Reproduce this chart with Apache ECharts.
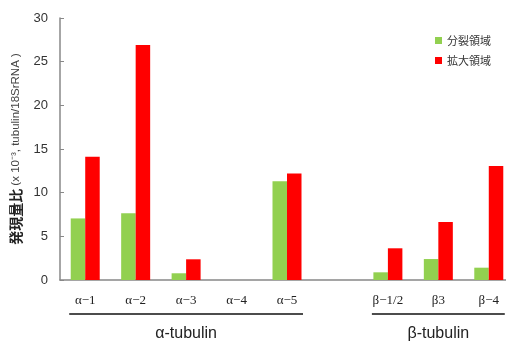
<!DOCTYPE html>
<html><head><meta charset="utf-8">
<script src="https://cdn.jsdelivr.net/npm/echarts@6/dist/echarts.min.js"></script>
<style>html,body{margin:0;padding:0;background:#fff;overflow:hidden}#c{width:514px;height:342px}</style>
</head><body><div id="c"></div>
<script>
const categories = ['α−1','α−2','α−3','α−4','α−5','','β−1/2','β3','β−4'];
const divisionZone = [7.05, 7.65, 0.77, 0, 11.3, '-', 0.88, 2.4, 1.41];
const expansionZone = [14.1, 26.9, 2.37, 0, 12.2, '-', 3.63, 6.64, 13.06];
const seriesNames = ['分裂領域', '拡大領域'];
const yTicks = [0, 5, 10, 15, 20, 25, 30];
const groups = [
  {label: 'α-tubulin', from: 'α−1', to: 'α−5'},
  {label: 'β-tubulin', from: 'β−1/2', to: 'β−4'}
];

const chart = echarts.init(document.getElementById('c'), null, {renderer: 'canvas'});
const option = {
  animation: false,
  grid: {left: 60, top: 18, bottom: 62, right: 0, containLabel: false},
  legend: {
    orient: 'vertical', right: 18, top: 30, itemWidth: 7, itemHeight: 7, itemGap: 9,
    icon: 'rect',
    textStyle: {fontSize: 11, color: '#333', fontFamily: 'Noto Sans CJK JP'},
    data: seriesNames
  },
  xAxis: {
    type: 'category', data: categories,
    axisLine: {lineStyle: {color: '#888', width: 1.5}},
    axisTick: {show: false},
    axisLabel: {margin: 14, fontSize: 13, color: '#222', fontFamily: 'Liberation Serif', interval: 0}
  },
  yAxis: {
    type: 'value', min: yTicks[0], max: yTicks[yTicks.length-1], interval: 5,
    splitLine: {show: false},
    axisLine: {show: true, lineStyle: {color: '#888', width: 1.5}},
    axisTick: {show: true, inside: true, length: 4, lineStyle: {color: '#888'}},
    axisLabel: {margin: 12, fontSize: 13, color: '#333', fontFamily: 'Liberation Sans'},
    name: '{a|発現量比}{b| (x 10⁻³, tubulin/18SrRNA )}',
    nameLocation: 'middle', nameGap: 35, nameRotate: 90,
    nameTextStyle: {
      rich: {
        a: {fontSize: 14, fontWeight: 'bold', color: '#222', fontFamily: 'Noto Sans CJK JP'},
        b: {fontSize: 11.5, color: '#444', fontFamily: 'Liberation Sans'}
      }
    }
  },
  series: [
    {name: seriesNames[0], type: 'bar', data: divisionZone, barWidth: 14.5, barGap: '0%',
     itemStyle: {color: '#92d050'}},
    {name: seriesNames[1], type: 'bar', data: expansionZone, barWidth: 14.5, barGap: '0%',
     itemStyle: {color: '#ff0000'}}
  ]
};
chart.setOption(option);

const y0 = chart.convertToPixel({yAxisIndex: 0}, 0);
const graphics = [];
groups.forEach(g => {
  const x1 = chart.convertToPixel({xAxisIndex: 0}, g.from) - 16;
  const x2 = chart.convertToPixel({xAxisIndex: 0}, g.to) + 16;
  graphics.push({type: 'line', shape: {x1: x1, y1: y0 + 34, x2: x2, y2: y0 + 34},
    style: {stroke: '#111', lineWidth: 1.5}});
  graphics.push({type: 'text', x: (x1 + x2) / 2, y: y0 + 54,
    style: {text: g.label, font: '16px "Liberation Sans"', fill: '#222', align: 'center', verticalAlign: 'middle'}});
});
chart.setOption({graphic: graphics});
</script></body></html>
